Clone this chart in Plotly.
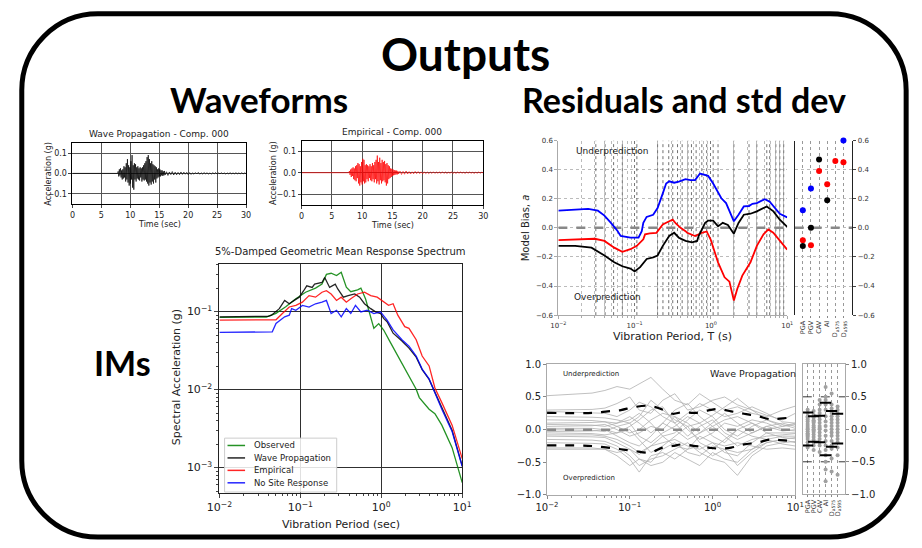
import plotly.graph_objects as go

W, H = 922, 548
def fx(x): return x / W
def fy(y): return 1 - y / H

# ====================== DATA ======================
# --- Waveforms (acceleration, g) ---
STRONG_T0, STRONG_DT = 7.8, 0.1
TAIL_T0, TAIL_DT = 16.25, 0.25
wave_prop_strong = [0.0, 0.01, -0.015, 0.02, -0.01, 0.025, -0.02, 0.015, -0.03, 0.02,
                    -0.025, 0.035, -0.02, 0.03, -0.04, 0.05, -0.03, 0.07, -0.045, 0.04,
                    -0.06, 0.03, -0.05, 0.06, -0.03, 0.09, -0.07, 0.04, -0.08, 0.05,
                    -0.03, 0.045, -0.04, 0.03, -0.025, 0.035, -0.03, 0.025, -0.035, 0.03,
                    -0.02, 0.025, -0.04, 0.03, -0.03, 0.04, -0.035, 0.05, -0.03, 0.06,
                    -0.04, 0.08, -0.05, 0.09, -0.06, 0.07, -0.045, 0.05, -0.055, 0.06,
                    -0.04, 0.045, -0.05, 0.04, -0.03, 0.035, -0.045, 0.03, -0.025, 0.02,
                    -0.02, 0.025, -0.015, 0.02, -0.015, 0.015, -0.01, 0.015, -0.012, 0.01,
                    -0.01, 0.012, -0.008]
wave_prop_tail = [0.008, -0.01, 0.007, -0.006, 0.009, -0.008, 0.006, -0.007, 0.005, -0.006,
                  0.007, -0.005, 0.006, -0.004, 0.005, -0.006, 0.004, -0.005, 0.003, -0.004,
                  0.004, -0.003, 0.005, -0.004, 0.003, -0.003, 0.004, -0.002, 0.003, -0.003,
                  0.002, -0.003, 0.003, -0.002, 0.004, -0.003, 0.002, -0.002, 0.003, -0.002,
                  0.002, -0.003, 0.002, -0.002, 0.003, -0.002, 0.002, -0.002, 0.003, -0.002,
                  0.002, -0.002, 0.003, -0.002, 0.002, -0.001]
empirical_strong = [0.0, 0.008, -0.01, 0.015, -0.02, 0.02, -0.015, 0.025, -0.03, 0.02,
                    -0.035, 0.03, -0.04, 0.035, -0.025, 0.045, -0.05, 0.04, -0.06, 0.03,
                    -0.045, 0.05, -0.055, 0.065, -0.04, 0.06, -0.05, 0.035, -0.045, 0.04,
                    -0.03, 0.035, -0.04, 0.03, -0.025, 0.04, -0.035, 0.03, -0.04, 0.045,
                    -0.03, 0.035, -0.045, 0.05, -0.03, 0.06, -0.05, 0.08, -0.04, 0.05,
                    -0.055, 0.07, -0.035, 0.045, -0.05, 0.06, -0.04, 0.05, -0.035, 0.055,
                    -0.045, 0.04, -0.06, 0.045, -0.05, 0.035, -0.03, 0.03, -0.025, 0.02,
                    -0.02, 0.018, -0.015, 0.015, -0.012, 0.012, -0.01, 0.01, -0.008, 0.01,
                    -0.008, 0.007, -0.006]
empirical_tail = [0.007, -0.008, 0.006, -0.007, 0.008, -0.006, 0.005, -0.006, 0.004, -0.005,
                  0.006, -0.004, 0.005, -0.004, 0.004, -0.005, 0.004, -0.004, 0.003, -0.004,
                  0.003, -0.003, 0.004, -0.003, 0.003, -0.002, 0.003, -0.003, 0.004, -0.003,
                  0.003, -0.003, 0.002, -0.002, 0.003, -0.003, 0.002, -0.003, 0.003, -0.002,
                  0.003, -0.002, 0.002, -0.003, 0.003, -0.002, 0.003, -0.002, 0.002, -0.003,
                  0.002, -0.002, 0.003, -0.002, 0.002, -0.001]

# --- Response spectrum (period s, SA g) ---
obs_T = [0.01, 0.02, 0.038, 0.05, 0.066, 0.088, 0.116, 0.154, 0.185, 0.21, 0.24, 0.28, 0.32,
         0.37, 0.42, 0.51, 0.56, 0.64, 0.74, 0.81, 0.93, 1.07, 1.3, 1.7, 2.2, 2.7, 2.95, 3.9,
         4.6, 5.6, 7.5, 8.6, 10]
obs_SA = [0.084, 0.084, 0.085, 0.095, 0.115, 0.146, 0.177, 0.2, 0.225, 0.3, 0.31, 0.29, 0.32,
          0.205, 0.18, 0.19, 0.2, 0.145, 0.085, 0.061, 0.07, 0.058, 0.04, 0.024, 0.0147, 0.0101,
          0.0079, 0.0056, 0.0049, 0.0035, 0.0018, 0.0011, 0.00064]
wp_T = [0.01, 0.02, 0.04, 0.044, 0.055, 0.064, 0.073, 0.084, 0.097, 0.11, 0.12, 0.14, 0.15,
        0.185, 0.2, 0.23, 0.27, 0.29, 0.34, 0.39, 0.47, 0.54, 0.62, 0.74, 0.85, 0.98, 1.07,
        1.18, 1.4, 1.8, 2.2, 2.7, 3.2, 3.9, 4.6, 5.6, 7.5, 10]
wp_SA = [0.0857, 0.0857, 0.087, 0.0899, 0.109, 0.139, 0.126, 0.139, 0.153, 0.185, 0.214, 0.204,
         0.225, 0.236, 0.273, 0.204, 0.225, 0.195, 0.153, 0.16, 0.168, 0.153, 0.126, 0.109,
         0.099, 0.0944, 0.0817, 0.0742, 0.0528, 0.042, 0.034, 0.026, 0.018, 0.0135, 0.0092,
         0.0058, 0.003, 0.00105]
emp_T = [0.01, 0.02, 0.045, 0.05, 0.06, 0.073, 0.088, 0.106, 0.128, 0.154, 0.185, 0.21, 0.24,
         0.28, 0.32, 0.37, 0.42, 0.51, 0.62, 0.74, 0.89, 1.07, 1.23, 1.4, 1.6, 1.95, 2.2, 2.7,
         3.2, 3.9, 4.6, 5.6, 7.5, 10]
emp_SA = [0.0778, 0.0778, 0.0778, 0.0785, 0.0944, 0.1145, 0.12, 0.132, 0.16, 0.153, 0.177, 0.185,
          0.168, 0.139, 0.153, 0.132, 0.146, 0.168, 0.177, 0.16, 0.153, 0.132, 0.12, 0.126,
          0.0899, 0.064, 0.061, 0.0436, 0.0269, 0.0201, 0.0105, 0.0068, 0.0035, 0.0013]
nsr_T = [0.01, 0.02, 0.045, 0.05, 0.064, 0.073, 0.078, 0.088, 0.106, 0.128, 0.154, 0.185, 0.21,
         0.24, 0.28, 0.32, 0.37, 0.42, 0.48, 0.56, 0.67, 0.81, 0.98, 1.18, 1.4, 1.8, 2.2, 2.7,
         3.2, 3.9, 4.6, 5.6, 7.5, 10]
nsr_SA = [0.054, 0.054, 0.055, 0.0706, 0.0857, 0.0899, 0.109, 0.104, 0.12, 0.114, 0.126, 0.132,
          0.139, 0.0944, 0.104, 0.0857, 0.109, 0.0944, 0.12, 0.099, 0.104, 0.0944, 0.099, 0.0778,
          0.0582, 0.0436, 0.036, 0.0269, 0.0183, 0.0137, 0.009, 0.0056, 0.0029, 0.00103]
spectrum_names = ["Observed", "Wave Propagation", "Empirical", "No Site Response"]

# --- Model bias ---
bias_blue_T = [0.01, 0.0166, 0.0246, 0.033, 0.0402, 0.0489, 0.0594, 0.0656, 0.088, 0.1125,
               0.124, 0.13, 0.1436, 0.175, 0.2, 0.234, 0.259, 0.284, 0.33, 0.38, 0.465, 0.54,
               0.62, 0.72, 0.84, 0.92, 1.07, 1.37, 1.58, 2.0, 2.3, 2.7, 3.16, 3.5, 4.0, 4.6,
               5.1, 5.9, 6.9, 8.0, 10]
bias_blue = [0.118, 0.124, 0.13, 0.118, 0.084, 0.034, -0.02, -0.056, -0.067, -0.067,
             -0.023, 0.034, 0.075, 0.09, 0.136, 0.237, 0.305, 0.32, 0.31, 0.317, 0.334, 0.328,
             0.328, 0.373, 0.362, 0.357, 0.305, 0.203, 0.17, 0.045, 0.09, 0.147, 0.15, 0.165,
             0.17, 0.188, 0.197, 0.18, 0.136, 0.097, 0.072]
bias_red_T = [0.01, 0.0166, 0.03, 0.0402, 0.054, 0.069, 0.088, 0.107, 0.13, 0.137, 0.158, 0.193,
              0.234, 0.284, 0.316, 0.347, 0.40, 0.465, 0.489, 0.62, 0.76, 0.88, 0.99, 1.24,
              1.51, 1.75, 2.0, 2.22, 2.58, 3.3, 4.0, 4.89, 5.66, 6.57, 7.98, 10]
bias_red = [-0.084, -0.079, -0.075, -0.09, -0.136, -0.165, -0.147, -0.124, -0.079, -0.045,
            -0.038, -0.034, 0.023, 0.045, 0.056, 0.03, 0.0, -0.023, -0.034, -0.056, -0.034,
            -0.025, -0.079, -0.237, -0.34, -0.37, -0.5, -0.418, -0.328, -0.237, -0.124,
            -0.045, -0.011, -0.034, -0.09, -0.15]
bias_black_T = [0.01, 0.0166, 0.0272, 0.0402, 0.054, 0.069, 0.088, 0.1, 0.118, 0.144, 0.175,
                0.2, 0.234, 0.284, 0.33, 0.38, 0.465, 0.565, 0.66, 0.69, 0.84, 0.92, 1.07,
                1.24, 1.43, 1.67, 2.0, 2.3, 2.7, 3.3, 4.0, 4.9, 5.4, 6.6, 8.0, 10]
bias_black = [-0.124, -0.124, -0.136, -0.19, -0.237, -0.264, -0.28, -0.3, -0.27, -0.214,
              -0.203, -0.19, -0.124, -0.056, -0.034, -0.068, -0.09, -0.1, -0.09, -0.056,
              0.034, 0.05, 0.05, 0.01, 0.034, 0.02, -0.04, 0.034, 0.09, 0.097, 0.113, 0.136,
              0.147, 0.113, 0.056, 0.007]
bias_periods_marked = [0.031, 0.041, 0.053, 0.069, 0.107, 0.2, 0.235, 0.28, 0.316, 0.365,
                       0.42, 0.5, 0.556, 0.64, 0.76, 0.88, 1.07, 1.24, 2.0, 3.16, 4.0, 5.4,
                       5.9, 7.1, 8.0, 9.0]
im_labels = ["PGA", "PGV", "CAV", "AI", "D<sub>a575</sub>", "D<sub>a595</sub>"]
im_bias_blue = {"PGA": 0.12, "PGV": 0.27, "D<sub>a595</sub>": 0.6}
im_bias_red = {"PGA": -0.085, "PGV": -0.12, "CAV": 0.39, "AI": 0.30,
               "D<sub>a575</sub>": 0.46, "D<sub>a595</sub>": 0.45}
im_bias_black = {"PGA": -0.125, "PGV": 0.0, "CAV": 0.47, "AI": 0.19}

# --- Residuals (wave propagation) ---
res_T = [0.01, 0.02, 0.035, 0.05, 0.07, 0.1, 0.13, 0.18, 0.25, 0.35, 0.5, 0.7, 1.0, 1.4, 2.0,
         3.0, 4.5, 7.0, 10.0]
res_lines = [
    [0.52, 0.54, 0.56, 0.60, 0.66, 0.62, 0.70, 0.80, 0.62, 0.45, 0.38, 0.55, 0.42, 0.30, 0.35, 0.25, 0.20, 0.30, 0.36],
    [0.30, 0.30, 0.31, 0.33, 0.40, 0.50, 0.30, 0.25, 0.45, 0.55, 0.30, 0.35, 0.45, 0.50, 0.38, 0.30, 0.22, 0.15, 0.25],
    [0.28, 0.27, 0.26, 0.25, 0.20, 0.30, 0.42, 0.35, 0.20, 0.10, 0.25, 0.40, 0.30, 0.20, 0.25, 0.35, 0.25, 0.12, 0.10],
    [0.20, 0.20, 0.19, 0.18, 0.15, 0.10, 0.20, 0.45, 0.30, 0.15, 0.05, 0.10, 0.22, 0.35, 0.48, 0.30, 0.15, 0.05, 0.08],
    [0.15, 0.15, 0.14, 0.12, 0.10, 0.20, 0.10, -0.05, 0.10, 0.30, 0.40, 0.20, 0.05, 0.15, 0.20, 0.10, 0.00, 0.05, 0.10],
    [0.10, 0.10, 0.11, 0.12, 0.05, -0.05, 0.00, 0.15, 0.25, 0.20, 0.10, -0.05, 0.10, 0.25, 0.10, -0.05, 0.05, 0.10, 0.05],
    [0.08, 0.08, 0.07, 0.05, 0.10, 0.15, 0.25, 0.10, -0.10, -0.05, 0.15, 0.30, 0.20, 0.00, -0.10, 0.05, 0.15, 0.08, 0.02],
    [0.05, 0.05, 0.06, 0.08, 0.00, -0.10, -0.05, 0.05, 0.00, 0.20, 0.00, -0.15, -0.05, 0.10, 0.05, 0.15, 0.10, 0.00, -0.02],
    [0.02, 0.02, 0.02, 0.00, -0.05, 0.05, 0.15, 0.30, 0.35, 0.10, -0.10, 0.05, 0.15, -0.05, -0.15, -0.05, 0.05, -0.02, 0.00],
    [0.00, 0.00, -0.01, -0.03, 0.05, 0.10, -0.10, -0.20, -0.05, 0.05, 0.20, 0.10, -0.10, -0.20, 0.00, 0.10, -0.05, -0.05, -0.05],
    [-0.03, -0.03, -0.02, 0.00, -0.10, -0.20, -0.25, -0.10, 0.10, 0.00, -0.15, -0.05, 0.05, -0.10, -0.25, -0.15, -0.10, -0.08, -0.06],
    [-0.05, -0.05, -0.06, -0.08, -0.05, 0.00, -0.15, -0.35, -0.25, -0.10, 0.05, -0.20, -0.30, -0.15, 0.00, -0.10, -0.15, -0.10, -0.10],
    [-0.08, -0.08, -0.08, -0.10, -0.15, -0.25, -0.35, -0.25, -0.10, -0.25, -0.30, -0.10, -0.20, -0.35, -0.40, -0.20, -0.05, -0.12, -0.14],
    [-0.10, -0.10, -0.11, -0.12, -0.20, -0.30, -0.45, -0.50, -0.30, -0.20, -0.35, -0.40, -0.25, -0.30, -0.55, -0.35, -0.20, -0.15, -0.12],
    [-0.15, -0.15, -0.16, -0.18, -0.25, -0.40, -0.55, -0.45, -0.40, -0.30, -0.20, -0.35, -0.45, -0.50, -0.70, -0.40, -0.25, -0.20, -0.18],
    [-0.20, -0.20, -0.21, -0.22, -0.30, -0.45, -0.65, -0.40, -0.35, -0.45, -0.30, -0.25, -0.40, -0.30, -0.35, -0.30, -0.20, -0.15, -0.20],
    [-0.28, -0.28, -0.28, -0.30, -0.40, -0.55, -0.45, -0.55, -0.50, -0.35, -0.45, -0.55, -0.35, -0.45, -0.50, -0.30, -0.15, -0.22, -0.25],
    [-0.30, -0.30, -0.30, -0.30, -0.35, -0.30, -0.38, -0.25, -0.20, -0.15, -0.25, -0.30, -0.20, -0.25, -0.20, -0.25, -0.30, -0.28, -0.30],
]
std_T = [0.01, 0.035, 0.054, 0.078, 0.112, 0.176, 0.25, 0.33, 0.43, 0.62, 0.89, 1.17, 1.68,
         2.4, 3.47, 4.98, 6.5, 10]
std_upper = [0.257, 0.257, 0.28, 0.30, 0.345, 0.364, 0.306, 0.243, 0.267, 0.257, 0.296, 0.316,
             0.28, 0.243, 0.209, 0.16, 0.17, 0.19]
std_lower = [-0.24, -0.25, -0.275, -0.30, -0.325, -0.35, -0.275, -0.25, -0.225, -0.25, -0.275,
             -0.29, -0.275, -0.225, -0.2, -0.15, -0.16, -0.175]
im_res = {
    "PGA": [0.3, 0.25, 0.2, 0.15, 0.12, 0.08, 0.05, 0.02, 0.0, -0.03, -0.06, -0.1, -0.12, -0.15, -0.2, -0.25, -0.28, 0.18, -0.08],
    "PGV": [0.28, 0.22, 0.18, 0.14, 0.1, 0.06, 0.03, 0.0, -0.04, -0.08, -0.12, -0.16, -0.2, -0.25, -0.32, 0.12, -0.02],
    "CAV": [0.45, 0.38, 0.3, 0.25, 0.2, 0.15, 0.1, 0.05, 0.0, -0.05, -0.1, -0.15, -0.2, -0.25, -0.35, 0.02],
    "AI": [0.65, 0.5, 0.45, 0.38, 0.3, 0.2, 0.12, 0.05, -0.02, -0.1, -0.18, -0.25, -0.32, -0.4, -0.5, -0.62, -0.8],
    "D<sub>a575</sub>": [0.55, 0.38, 0.32, 0.25, 0.2, 0.15, 0.1, 0.05, 0.0, -0.05, -0.1, -0.18, -0.25, -0.3, -0.45, -0.65],
    "D<sub>a595</sub>": [0.35, 0.3, 0.25, 0.2, 0.15, 0.1, 0.05, 0.0, -0.05, -0.1, -0.15, -0.2, -0.28, -0.4, -0.7],
}
im_res_upper = [0.26, 0.20, 0.21, 0.41, 0.28, 0.24]
im_res_lower = [-0.25, -0.19, -0.20, -0.40, -0.27, -0.22]

# ====================== FIGURE ======================
FONT = "DejaVu Sans"
fig = go.Figure()

def wave_xy(strong, tail):
    t = [0.0, 7.7] + [round(STRONG_T0 + STRONG_DT * i, 3) for i in range(len(strong))] \
        + [round(TAIL_T0 + TAIL_DT * i, 3) for i in range(len(tail))]
    return t, [0.0, 0.0] + strong + tail

t1, a1 = wave_xy(wave_prop_strong, wave_prop_tail)
fig.add_trace(go.Scatter(x=t1, y=a1, mode="lines", line=dict(color="black", width=0.7),
                         xaxis="x", yaxis="y", showlegend=False))
t2, a2 = wave_xy(empirical_strong, empirical_tail)
fig.add_trace(go.Scatter(x=t2, y=a2, mode="lines", line=dict(color="red", width=0.7),
                         xaxis="x2", yaxis="y2", showlegend=False))

# spectrum
spec_colors = ["green", "black", "red", "blue"]
for name, T, SA, col in zip(spectrum_names, [obs_T, wp_T, emp_T, nsr_T],
                            [obs_SA, wp_SA, emp_SA, nsr_SA], spec_colors):
    fig.add_trace(go.Scatter(x=T, y=SA, mode="lines", name=name,
                             line=dict(color=col, width=1.3), opacity=0.85,
                             xaxis="x3", yaxis="y3", showlegend=False))

# bias main
vx, vy = [], []
for p in bias_periods_marked:
    vx += [p, p, None]
    vy += [-0.6, 0.6, None]
fig.add_trace(go.Scatter(x=vx, y=vy, mode="lines", line=dict(color="#333", width=0.7, dash="dot"),
                         xaxis="x4", yaxis="y4", showlegend=False, hoverinfo="skip"))
fig.add_trace(go.Scatter(x=[0.01, 10], y=[0, 0], mode="lines",
                         line=dict(color="#888", width=2.5, dash="dash"),
                         xaxis="x4", yaxis="y4", showlegend=False))
for T, B, col in [(bias_blue_T, bias_blue, "blue"), (bias_red_T, bias_red, "red"),
                  (bias_black_T, bias_black, "black")]:
    fig.add_trace(go.Scatter(x=T, y=B, mode="lines", line=dict(color=col, width=1.8),
                             xaxis="x4", yaxis="y4", showlegend=False))

# bias side
idx = {lab: i for i, lab in enumerate(im_labels)}
fig.add_trace(go.Scatter(x=[-1, 6.08], y=[0, 0], mode="lines",
                         line=dict(color="#888", width=2.5, dash="dash"),
                         xaxis="x5", yaxis="y5", showlegend=False))
for d, col in [(im_bias_red, "red"), (im_bias_black, "black"), (im_bias_blue, "blue")]:
    fig.add_trace(go.Scatter(x=[idx[k] for k in d], y=list(d.values()), mode="markers",
                             marker=dict(color=col, size=6), cliponaxis=False,
                             xaxis="x5", yaxis="y5", showlegend=False))

# residual main
for line in res_lines:
    fig.add_trace(go.Scatter(x=res_T, y=line, mode="lines", line=dict(color="#b0b0b0", width=0.8),
                             xaxis="x6", yaxis="y6", showlegend=False))
fig.add_trace(go.Scatter(x=[0.01, 10], y=[0, 0], mode="lines",
                         line=dict(color="#888", width=2.5, dash="dash"),
                         xaxis="x6", yaxis="y6", showlegend=False))
for S in (std_upper, std_lower):
    fig.add_trace(go.Scatter(x=std_T, y=S, mode="lines", line=dict(color="black", width=2.2, dash="dash"),
                             line_shape="spline", xaxis="x6", yaxis="y6", showlegend=False))

# residual side
hx, hy = [], []
for yv in (0.5, -0.5):
    hx += [-0.81, 6.24, None]
    hy += [yv, yv, None]
fig.add_trace(go.Scatter(x=hx, y=hy, mode="lines", line=dict(color="black", width=0.8, dash="dash"),
                         xaxis="x7", yaxis="y7", showlegend=False))
for lab, vals in im_res.items():
    fig.add_trace(go.Scatter(x=[idx[lab]] * len(vals), y=vals, mode="markers",
                             marker=dict(color="#a0a0a0", size=4),
                             xaxis="x7", yaxis="y7", showlegend=False))
fig.add_trace(go.Scatter(x=list(range(6)) * 2, y=im_res_upper + im_res_lower, mode="markers",
                         marker=dict(symbol="line-ew", size=8, line=dict(color="black", width=2)),
                         xaxis="x7", yaxis="y7", showlegend=False))

# ====================== AXES ======================
def sup(e):
    return "10<sup>" + ("−" + str(-e) if e < 0 else str(e)) + "</sup>"

dec_vals = [0.01, 0.1, 1, 10]
dec_text = [sup(-2), sup(-1), sup(0), sup(1)]
minor_x = [m * 10 ** e for e in (-2, -1, 0) for m in range(2, 10)]
minor_y = [m * 10 ** e for e in (-4, -3, -2, -1) for m in range(2, 10)
           if 4.6e-4 < m * 10 ** e < 0.41]

def tf(size, color="#222"):
    return dict(family=FONT, size=size, color=color)

wave_x = dict(range=[0, 30], tickvals=[0, 5, 10, 15, 20, 25, 30], showgrid=True,
              gridcolor="#555", gridwidth=0.8, showline=True, linecolor="black", linewidth=1,
              mirror=True, ticks="outside", ticklen=3, tickfont=tf(8), zeroline=False)
wave_y = dict(range=[-0.15, 0.15], tickvals=[-0.1, 0, 0.1], ticktext=["−0.1", "0.0", "0.1"],
              showgrid=True, gridcolor="#555", gridwidth=0.8, showline=True, linecolor="black",
              linewidth=1, mirror=True, ticks="outside", ticklen=3, tickfont=tf(8), zeroline=False)

layout_axes = dict(
    xaxis=dict(domain=[fx(61), fx(239)], anchor="y", **wave_x),
    yaxis=dict(domain=[fy(203), fy(140.7)], anchor="x", **wave_y),
    xaxis2=dict(domain=[fx(296), fx(482.3)], anchor="y2", **wave_x),
    yaxis2=dict(domain=[fy(204), fy(138.3)], anchor="x2", **wave_y),
    xaxis3=dict(domain=[fx(211.7), fx(460.7)], anchor="y3", type="log", range=[-2, 1],
                tickvals=dec_vals, ticktext=dec_text, tickfont=tf(11), showgrid=True,
                gridcolor="#333", gridwidth=1, showline=True, linecolor="#222", mirror=True,
                ticks="outside", ticklen=4,
                minor=dict(tickmode="array", tickvals=minor_x, ticks="outside", ticklen=2,
                           showgrid=False)),
    yaxis3=dict(domain=[fy(498.3), fy(264.3)], anchor="x3", type="log", range=[-3.33, -0.39],
                tickvals=[0.001, 0.01, 0.1], ticktext=[sup(-3), sup(-2), sup(-1)],
                tickfont=tf(11), showgrid=True, gridcolor="#333", gridwidth=1, showline=True,
                linecolor="#222", mirror=True, ticks="outside", ticklen=4,
                minor=dict(tickmode="array", tickvals=minor_y, ticks="outside", ticklen=2,
                           showgrid=False)),
    xaxis4=dict(domain=[fx(559.3), fx(794)], anchor="y4", type="log", range=[-2, 1],
                tickvals=dec_vals, ticktext=dec_text, tickfont=tf(7, "#333"), showgrid=True,
                gridcolor="#777", griddash="dot", gridwidth=0.8, showline=True, linecolor="#aaa",
                ticks="outside", ticklen=3, tickcolor="#aaa",
                minor=dict(tickmode="array", tickvals=minor_x, ticks="outside", ticklen=2,
                           tickcolor="#aaa", showgrid=True, gridcolor="#bbb", griddash="dot",
                           gridwidth=0.8)),
    yaxis4=dict(domain=[fy(316.5), fy(138.3)], anchor="x4", range=[-0.6, 0.6],
                tickvals=[-0.6, -0.4, -0.2, 0, 0.2, 0.4, 0.6],
                ticktext=["−0.6", "−0.4", "−0.2", "0.0", "0.2", "0.4", "0.6"],
                tickfont=tf(7, "#333"), showgrid=True, gridcolor="#bbb", griddash="dot",
                gridwidth=0.8, zeroline=False, showline=True, linecolor="#aaa", ticks="outside",
                ticklen=3, tickcolor="#aaa"),
    xaxis5=dict(domain=[fx(801.7), fx(860.7)], anchor="y5", range=[-1, 6.08],
                tickvals=list(range(6)), ticktext=im_labels, tickangle=-90, tickfont=tf(6.5, "#333"),
                showgrid=True, gridcolor="#999", griddash="dot", gridwidth=0.8, showline=False,
                ticks="outside", ticklen=2, tickcolor="#888", zeroline=False),
    yaxis5=dict(domain=[fy(316.5), fy(138.3)], anchor="x5", side="right", range=[-0.6, 0.6],
                tickvals=[-0.6, -0.4, -0.2, 0, 0.2, 0.4, 0.6],
                ticktext=["−0.6", "−0.4", "−0.2", "0.0", "0.2", "0.4", "0.6"],
                tickfont=tf(7, "#333"), showgrid=True, gridcolor="#bbb", griddash="dot",
                gridwidth=0.8, zeroline=False, showline=True, linecolor="#222", linewidth=1.2,
                mirror=True, ticks="outside", ticklen=3),
    xaxis6=dict(domain=[fx(547.7), fx(802.3)], anchor="y6", type="log", range=[-2, 1],
                tickvals=dec_vals, ticktext=dec_text, tickfont=tf(10), showgrid=False,
                showline=True, linecolor="#aaa", mirror=True, ticks="outside", ticklen=3,
                tickcolor="#888",
                minor=dict(tickmode="array", tickvals=minor_x, ticks="outside", ticklen=2,
                           tickcolor="#888", showgrid=False)),
    yaxis6=dict(domain=[fy(500), fy(366.7)], anchor="x6", range=[-1, 1],
                tickvals=[-1, -0.5, 0, 0.5, 1], ticktext=["−1.0", "−0.5", "0.0", "0.5", "1.0"],
                tickfont=tf(10), showgrid=False, zeroline=False, showline=True, linecolor="#aaa",
                mirror=True, ticks="outside", ticklen=3, tickcolor="#888"),
    xaxis7=dict(domain=[fx(810), fx(853.3)], anchor="y7", range=[-0.81, 6.24],
                tickvals=list(range(6)), ticktext=im_labels, tickangle=-90, tickfont=tf(6.5, "#333"),
                showgrid=True, gridcolor="#999", griddash="dot", gridwidth=0.8, showline=True,
                linecolor="#aaa", mirror=True, ticks="outside", ticklen=2, tickcolor="#888",
                zeroline=False),
    yaxis7=dict(domain=[fy(499.3), fy(366.7)], anchor="x7", side="right", range=[-1, 1],
                tickvals=[-1, -0.5, 0, 0.5, 1], ticktext=["−1.0", "−0.5", "0.0", "0.5", "1.0"],
                tickfont=tf(10), showgrid=False, zeroline=False, showline=True, linecolor="#aaa",
                mirror=True, ticks="outside", ticklen=3, tickcolor="#888"),
)

# ====================== TEXT ======================
def ann(text, x, y, size, family=FONT, color="#222", angle=0, xanchor="center", bold=False):
    return dict(text=("<b>" + text + "</b>") if bold else text, x=fx(x), y=fy(y),
                xref="paper", yref="paper", showarrow=False, textangle=angle,
                xanchor=xanchor, yanchor="middle", font=dict(family=family, size=size, color=color))

HEAD = "Lato"
annotations = [
    ann("Outputs", 464, 50, 46, HEAD, "black", bold=True),
    ann("Waveforms", 252, 96, 35, HEAD, "black", bold=True),
    ann("Residuals and std dev", 688, 96, 34, HEAD, "black", bold=True),
    ann("IMs", 112, 365, 34, HEAD, "black", bold=True),
    ann("Wave Propagation - Comp. 000", 150, 132, 9),
    ann("Acceleration (g)", 36, 172, 8, angle=-90),
    ann("Time (sec)", 150, 224, 8),
    ann("Empirical - Comp. 000", 389, 130, 9),
    ann("Acceleration (g)", 267, 171, 8, angle=-90),
    ann("Time (sec)", 389, 225, 8),
    ann("5%-Damped Geometric Mean Response Spectrum", 336, 252, 10),
    ann("Spectral Acceleration (g)", 168, 380, 11, angle=-90),
    ann("Vibration Period (sec)", 336, 530, 11),
    ann("Underprediction", 575, 149, 9, xanchor="left"),
    ann("Overprediction", 573, 298, 9, xanchor="left"),
    ann("Model Bias, <i>a</i>", 526, 227, 10, angle=-90),
    ann("Vibration Period, T (s)", 676, 338, 11),
    ann("Underprediction", 562, 377, 7, xanchor="left"),
    ann("Wave Propagation", 759, 376, 9.5),
    ann("Overprediction", 562, 483, 7, xanchor="left"),
]

# rounded slide border (cubic bezier corners)
L, T, R, B, r = 9, 9, 916, 543, 78
k = 0.5523 * r
border = (f"M {fx(L + r)},{fy(T)} L {fx(R - r)},{fy(T)} "
          f"C {fx(R - r + k)},{fy(T)} {fx(R)},{fy(T + r - k)} {fx(R)},{fy(T + r)} "
          f"L {fx(R)},{fy(B - r)} "
          f"C {fx(R)},{fy(B - r + k)} {fx(R - r + k)},{fy(B)} {fx(R - r)},{fy(B)} "
          f"L {fx(L + r)},{fy(B)} "
          f"C {fx(L + r - k)},{fy(B)} {fx(L)},{fy(B - r + k)} {fx(L)},{fy(B - r)} "
          f"L {fx(L)},{fy(T + r)} "
          f"C {fx(L)},{fy(T + r - k)} {fx(L + r - k)},{fy(T)} {fx(L + r)},{fy(T)} Z")
shapes = [dict(type="path", path=border, xref="paper", yref="paper",
               line=dict(color="black", width=5), layer="below")]

# spectrum legend (box, line samples, labels)
LEG_X0, LEG_X1, LEG_Y0, LEG_Y1 = 217, 332, 442, 497
shapes.append(dict(type="rect", xref="paper", yref="paper", x0=fx(LEG_X0), x1=fx(LEG_X1),
                   y0=fy(LEG_Y1), y1=fy(LEG_Y0), line=dict(color="#cccccc", width=1),
                   fillcolor="rgba(255,255,255,0.85)", layer="above"))
for i, (name, col) in enumerate(zip(spectrum_names, spec_colors)):
    yy = 449.5 + 12.7 * i
    shapes.append(dict(type="line", xref="paper", yref="paper", x0=fx(220), x1=fx(238),
                       y0=fy(yy), y1=fy(yy), line=dict(color=col, width=1.5), opacity=0.85,
                       layer="above"))
    annotations.append(ann(name, 245, yy, 8.5, xanchor="left"))

fig.update_layout(
    width=W, height=H, margin=dict(l=0, r=0, t=0, b=0),
    paper_bgcolor="white", plot_bgcolor="white",
    font=dict(family=FONT, size=9, color="#222"),
    showlegend=False,
    annotations=annotations, shapes=shapes,
    **layout_axes,
)

fig.write_html("out.html")
